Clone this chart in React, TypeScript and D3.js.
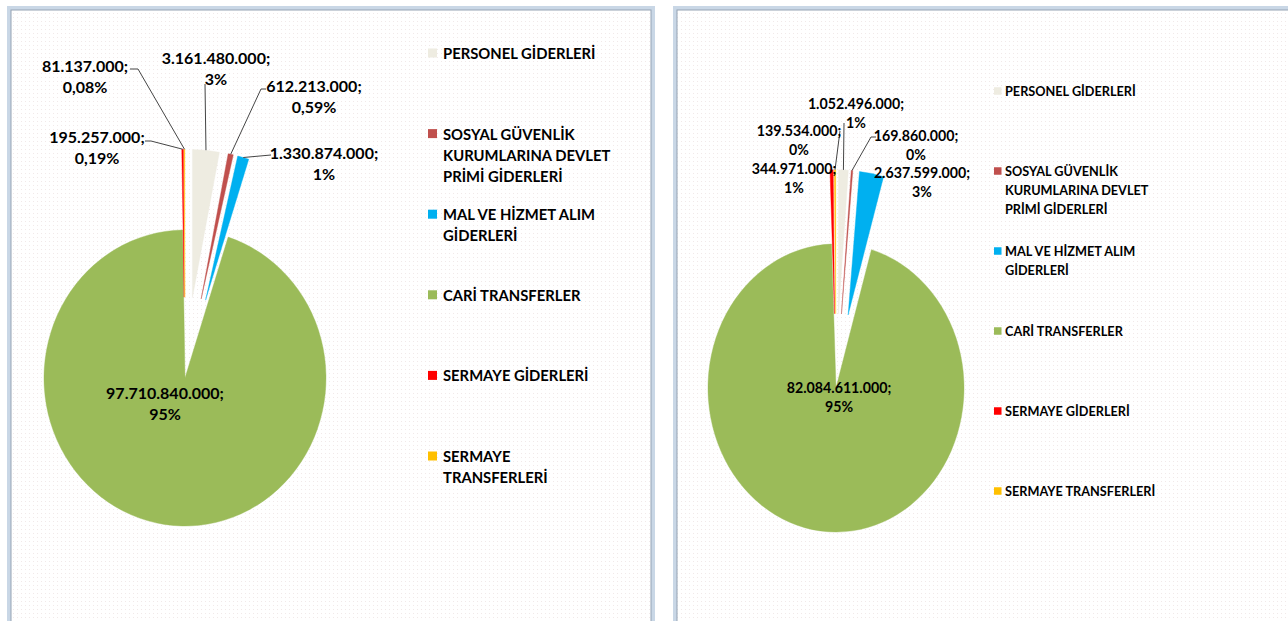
import React from "react";
import * as d3 from "d3";

// ---------- DATA ----------
const categories = [
  "PERSONEL GİDERLERİ",
  "SOSYAL GÜVENLİK KURUMLARINA DEVLET PRİMİ GİDERLERİ",
  "MAL VE HİZMET ALIM GİDERLERİ",
  "CARİ TRANSFERLER",
  "SERMAYE GİDERLERİ",
  "SERMAYE TRANSFERLERİ",
];
const sliceColors = ["#EEECE1", "#C0504D", "#00B0F0", "#9BBB59", "#FF0000", "#FFC000"];

const valuesLeft = [3161480000, 612213000, 1330874000, 97710840000, 195257000, 81137000];
const pctLeft = ["3%", "0,59%", "1%", "95%", "0,19%", "0,08%"];

const valuesRight = [1052496000, 169860000, 2637599000, 82084611000, 344971000, 139534000];
const pctRight = ["1%", "0%", "3%", "95%", "1%", "0%"];

const legendLinesLeft = [
  ["PERSONEL GİDERLERİ"],
  ["SOSYAL GÜVENLİK", "KURUMLARINA DEVLET", "PRİMİ GİDERLERİ"],
  ["MAL VE HİZMET ALIM", "GİDERLERİ"],
  ["CARİ TRANSFERLER"],
  ["SERMAYE GİDERLERİ"],
  ["SERMAYE", "TRANSFERLERİ"],
];
const legendLinesRight = [
  ["PERSONEL GİDERLERİ"],
  ["SOSYAL GÜVENLİK", "KURUMLARINA DEVLET", "PRİMİ GİDERLERİ"],
  ["MAL VE HİZMET ALIM", "GİDERLERİ"],
  ["CARİ TRANSFERLER"],
  ["SERMAYE GİDERLERİ"],
  ["SERMAYE TRANSFERLERİ"],
];

// ---------- LAYOUT ----------
const trLocale = d3.formatLocale({ decimal: ",", thousands: ".", grouping: [3], currency: ["", ""] });
const fmt = trLocale.format(",");

const FONT = "Lato, 'Open Sans', sans-serif";

type Layout = {
  panel: { x: number; y: number; w: number; h: number };
  cx: number; cy: number; rx: number; ry: number; explode: number;
  exploded: boolean[];
  fontSize: number; lineH: number;
  labels: { x: number; y: number; leader: [number, number][] | null }[];
  legend: { sqX: number; sq: number; textX: number; y0: number; step: number; lineH: number; fontSize: number };
};

const layoutLeft: Layout = {
  panel: { x: 9, y: 8, w: 644, h: 660 },
  cx: 185, cy: 378, rx: 141, ry: 148, explode: 77,
  exploded: [true, true, true, false, true, true],
  fontSize: 16, lineH: 21,
  labels: [
    { x: 216, y: 57, leader: [[205, 84]] },
    { x: 314, y: 85, leader: [[266, 89], [261, 89]] },
    { x: 324, y: 152, leader: [[271, 155]] },
    { x: 165, y: 392, leader: null },
    { x: 97, y: 136, leader: [[145, 141], [151, 141]] },
    { x: 85, y: 65, leader: [[130, 69], [138, 69]] },
  ],
  legend: { sqX: 428, sq: 9, textX: 443, y0: 53, step: 80.6, lineH: 21, fontSize: 14.8 },
};

const layoutRight: Layout = {
  panel: { x: 675, y: 8, w: 660, h: 660 },
  cx: 836, cy: 388, rx: 128, ry: 144, explode: 66,
  exploded: [true, true, true, false, true, true],
  fontSize: 14.2, lineH: 19,
  labels: [
    { x: 856, y: 103, leader: [[844, 123]] },
    { x: 916, y: 135, leader: [[876, 137], [871, 137]] },
    { x: 922, y: 172, leader: null },
    { x: 839, y: 387, leader: null },
    { x: 794, y: 168, leader: null },
    { x: 799, y: 130, leader: [[840, 131]] },
  ],
  legend: { sqX: 994, sq: 7.5, textX: 1005, y0: 91, step: 80, lineH: 19, fontSize: 12.7 },
};

function Panel({ values, pcts, legendLines, L, id }: { values: number[]; pcts: string[]; legendLines: string[][]; L: Layout; id: string }) {
  const pie = d3.pie<number>().sort(null).value((d) => d);
  const arcs = pie(values);
  const arcGen = d3.arc<d3.PieArcDatum<number>>().innerRadius(0).outerRadius(L.rx);
  const k = L.ry / L.rx;

  const offset = (a: d3.PieArcDatum<number>, i: number): [number, number] => {
    if (!L.exploded[i]) return [0, 0];
    const mid = (a.startAngle + a.endAngle) / 2;
    return [Math.sin(mid) * L.explode, -Math.cos(mid) * L.explode];
  };
  const outerPoint = (a: d3.PieArcDatum<number>, i: number): [number, number] => {
    const [ox, oy] = offset(a, i);
    const mid = (a.startAngle + a.endAngle) / 2;
    return [L.cx + ox + Math.sin(mid) * L.rx, L.cy + (oy - Math.cos(mid) * L.rx) * k];
  };

  const { panel } = L;
  return (
    <g>
      <defs>
        <pattern id={`dots-${id}`} width="4" height="4" patternUnits="userSpaceOnUse">
          <rect width="4" height="4" fill="#ffffff" />
          <rect x="1" y="1" width="1" height="1" fill="#f1e9e9" />
        </pattern>
      </defs>
      {/* frame */}
      <rect x={panel.x} y={panel.y} width={panel.w} height={panel.h} fill={`url(#dots-${id})`} stroke="#c9d7e6" strokeWidth={4} />
      <rect x={panel.x + 2} y={panel.y + 2} width={panel.w - 4} height={panel.h - 4} fill="none" stroke="#95a3b4" strokeWidth={1} />

      {/* slices */}
      <g transform={`translate(${L.cx},${L.cy}) scale(1,${k})`}>
        {arcs.map((a, i) => {
          const [ox, oy] = offset(a, i);
          return (
            <path
              key={i}
              d={arcGen(a) || ""}
              transform={`translate(${ox},${oy})`}
              fill={sliceColors[i]}
              stroke={sliceColors[i]}
              strokeWidth={0.4}
              vectorEffect="non-scaling-stroke"
            />
          );
        })}
      </g>

      {/* leader lines */}
      {arcs.map((a, i) => {
        const lab = L.labels[i];
        if (!lab.leader) return null;
        const pts = [...lab.leader, outerPoint(a, i)];
        return <polyline key={`l${i}`} points={pts.map((p) => p.join(",")).join(" ")} fill="none" stroke="#454545" strokeWidth={1} />;
      })}

      {/* data labels */}
      {arcs.map((a, i) => {
        const lab = L.labels[i];
        return (
          <text key={`t${i}`} textAnchor="middle" fontFamily={FONT} fontWeight={700} fontSize={L.fontSize} fill="#000">
            <tspan x={lab.x} y={lab.y} dominantBaseline="central">{fmt(values[i]) + ";"}</tspan>
            <tspan x={lab.x} y={lab.y + L.lineH} dominantBaseline="central">{pcts[i]}</tspan>
          </text>
        );
      })}

      {/* legend */}
      {legendLines.map((lines, i) => {
        const y = L.legend.y0 + i * L.legend.step;
        return (
          <g key={`g${i}`}>
            <rect x={L.legend.sqX} y={y - L.legend.sq / 2} width={L.legend.sq} height={L.legend.sq} fill={sliceColors[i]} />
            <text fontFamily={FONT} fontWeight={700} fontSize={L.legend.fontSize} fill="#000">
              {lines.map((ln, j) => (
                <tspan key={j} x={L.legend.textX} y={y + j * L.legend.lineH} dominantBaseline="central">{ln}</tspan>
              ))}
            </text>
          </g>
        );
      })}
    </g>
  );
}

export default function App() {
  return (
    <svg width={1288} height={621} style={{ position: "absolute", left: 0, top: 0, background: "#ffffff" }}>
      <title>{categories.join(", ")}</title>
      <Panel values={valuesLeft} pcts={pctLeft} legendLines={legendLinesLeft} L={layoutLeft} id="a" />
      <Panel values={valuesRight} pcts={pctRight} legendLines={legendLinesRight} L={layoutRight} id="b" />
    </svg>
  );
}
